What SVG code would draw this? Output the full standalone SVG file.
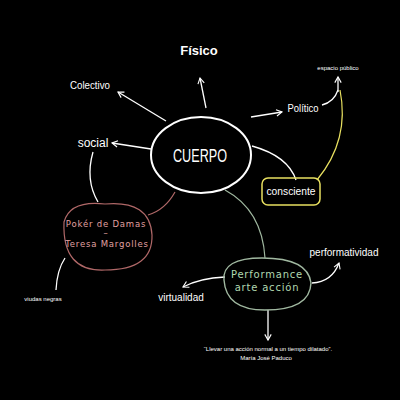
<svg xmlns="http://www.w3.org/2000/svg" width="400" height="400" viewBox="0 0 400 400">
<defs>
<marker id="ah" viewBox="0 0 10 10" refX="8" refY="5" markerWidth="8" markerHeight="8" orient="auto" markerUnits="userSpaceOnUse">
<path d="M1,1 L8,5 L1,9" fill="none" stroke="#fff" stroke-width="1.4"/>
</marker>
<style>
.t{font-family:"Liberation Sans",Arial,sans-serif;fill:#fff;text-anchor:middle}
.h{font-family:"DejaVu Sans",sans-serif;text-anchor:middle;letter-spacing:0.8px}
.c{fill:none;stroke:#fff;stroke-width:1.3}
.a{fill:none;stroke:#fff;stroke-width:1.3;marker-end:url(#ah)}
</style>
</defs>
<rect width="400" height="400" fill="#000"/>
<g id="connectors">
<path class="a" d="M206,108 L200,78"/>
<path class="a" d="M166,121 L118,92"/>
<path class="a" d="M251,117 L282,112"/>
<path class="a" d="M151,149 L112,143"/>
<path class="c" d="M322,105 Q334,102 338,90"/>
<path class="a" d="M338,92 L338,77"/>
<path class="c" d="M252,146 Q288,156 296,180"/>
<path fill="none" stroke="#e8e060" stroke-width="1.2" d="M317,180 Q350,140 340,90"/>
<path class="c" d="M93,152 Q85,180 98,202"/>
<path fill="none" stroke="#b06868" stroke-width="1.2" d="M175,192 Q165,210 148,215"/>
<path class="c" d="M65,258 Q57,270 56,290"/>
<path fill="none" stroke="#a0b8a0" stroke-width="1.2" d="M225,190 Q262,210 265,258"/>
<path class="a" d="M312,283 Q332,282 339,263"/>
<path class="a" d="M225,277 Q200,278 183,287"/>
<path class="a" d="M268,310 L268,340"/>
</g>
<g id="cuerpo">
<ellipse cx="201" cy="155" rx="50" ry="38" fill="none" stroke="#fff" stroke-width="2"/>
<text class="t" x="200" y="162" font-size="18" textLength="54" lengthAdjust="spacingAndGlyphs">CUERPO</text>
</g>
<g id="fisico"><text class="t" x="199" y="55" font-size="13" font-weight="bold">Físico</text></g>
<g id="colectivo"><text class="t" x="90" y="89" font-size="11" textLength="40" lengthAdjust="spacingAndGlyphs">Colectivo</text></g>
<g id="politico"><text class="t" x="303" y="112" font-size="11" textLength="31" lengthAdjust="spacingAndGlyphs">Político</text></g>
<g id="espacio"><text class="t" x="338" y="70" font-size="6">espacio público</text></g>
<g id="social"><text class="t" x="93" y="147" font-size="12">social</text></g>
<g id="consciente">
<rect x="262" y="178" width="58" height="27" rx="6" fill="none" stroke="#e8e060" stroke-width="1.5"/>
<text class="t" x="291" y="195" font-size="11" textLength="49" lengthAdjust="spacingAndGlyphs">consciente</text>
</g>
<g id="poker">
<path d="M64,222 Q70,200 105,204 Q150,200 152,235 Q153,270 105,270 Q62,272 64,222 Z" fill="none" stroke="#b06868" stroke-width="1.2"/>
<text class="h" x="106" y="227" font-size="8.5" fill="#e0a0a0">Pokér de Damas</text>
<text class="h" x="106" y="236" font-size="8.5" fill="#e0a0a0">–</text>
<text class="h" x="107" y="247" font-size="8.5" fill="#e0a0a0">Teresa Margolles</text>
</g>
<g id="viudas"><text class="t" x="43" y="301" font-size="6">viudas negras</text></g>
<g id="performance">
<path d="M224,280 Q222,258 262,258 Q308,258 311,283 Q310,310 265,310 Q226,310 224,280 Z" fill="none" stroke="#a0b8a0" stroke-width="1.4"/>
<text class="h" x="267" y="278" font-size="10" fill="#b0d8b0">Performance</text>
<text class="h" x="267" y="291" font-size="10" fill="#b0d8b0">arte acción</text>
</g>
<g id="performatividad"><text class="t" x="344" y="256" font-size="10">performatividad</text></g>
<g id="virtualidad"><text class="t" x="181" y="301" font-size="10">virtualidad</text></g>
<g id="cita">
<text class="t" x="268" y="351" font-size="6">“Llevar una acción normal a un tiempo dilatado”.</text>
<text class="t" x="266" y="360" font-size="6">María José Paduco</text>
</g>
</svg>
